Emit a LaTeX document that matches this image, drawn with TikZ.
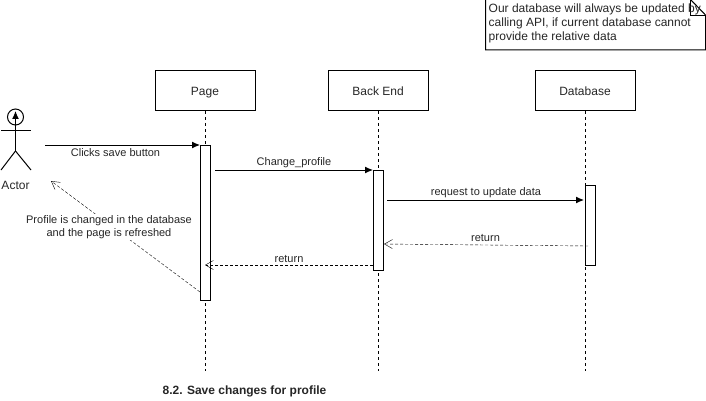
\documentclass[tikz,border=0pt]{standalone}
\usepackage{fontspec}
\setmainfont{Liberation Sans}
\usetikzlibrary{arrows.meta}

\begin{document}
\begin{tikzpicture}[x=1pt,y=-1pt,
    every node/.style={font=\fontsize{12}{14}\selectfont,text=black!85},
    lifebox/.style={rectangle, draw, line width=1pt, minimum width=100pt, minimum height=40pt, inner sep=0pt, text height=11pt, text depth=0pt},
    activation/.style={rectangle, draw, line width=1pt, fill=white, minimum width=10pt, inner sep=0pt},
    lifeline/.style={line width=1pt, dash pattern=on 3pt off 3pt},
    message/.style={line width=1pt, -{Latex[length=8pt,width=7pt]}},
    reply/.style={thin, dash pattern=on 3pt off 2pt, -{Straight Barb[length=8pt,width=9pt]}},
    msglabel/.style={font=\fontsize{11}{13}\selectfont, inner sep=1pt}]
   \useasboundingbox (0,0) rectangle (706,401);

   % lifelines
   \node[lifebox] (Page) at (205,90.5) {Page};
   \node[lifebox] (BackEnd) at (378,90.5) {Back End};
   \node[lifebox] (Database) at (585,90.5) {Database};
   \coordinate (PageEnd) at (205,371);
   \coordinate (BackEndEnd) at (378,371);
   \coordinate (DatabaseEnd) at (585,371);
   \draw[lifeline] (Page) to (PageEnd);
   \draw[lifeline] (BackEnd) to (BackEndEnd);
   \draw[lifeline] (Database) to (DatabaseEnd);

   % activations
   \node[activation, minimum height=155pt] (PageBar) at (205,222.5) {};
   \node[activation, minimum height=100pt] (BackEndBar) at (378,220) {};
   \node[activation, minimum height=80pt] (DatabaseBar) at (590,225) {};

   % actor
   \node[circle, draw, line width=1pt, minimum size=16pt, inner sep=0pt] (Head) at (15.5,117) {};
   \coordinate (Arm1) at (1,130);
   \coordinate (Arm2) at (31,130);
   \coordinate (Hip) at (15.5,151);
   \coordinate (Foot1) at (1,170);
   \coordinate (Foot2) at (31,170);
   \coordinate (HeadTop) at (15.5,111);
   \draw[line width=1pt] (Arm1) to (Arm2);
   \draw[line width=1pt] (Foot1) to (Hip);
   \draw[line width=1pt] (Hip) to (Foot2);
   \draw[message] (Hip) to (HeadTop);
   \node (Actor) at (15.5,185) {Actor};

   % messages
   \coordinate (ClickStart) at (45,145);
   \coordinate (ClickEnd) at (200,145);
   \coordinate (ChangeStart) at (215,170);
   \coordinate (ChangeEnd) at (373,170);
   \coordinate (RequestStart) at (387,200);
   \coordinate (RequestEnd) at (584,200);
   \coordinate (ReturnDbStart) at (588,246);
   \coordinate (ReturnDbEnd) at (384,244);
   \coordinate (ReturnPageStart) at (373,265);
   \coordinate (ReturnPageEnd) at (205,265);
   \coordinate (RefreshStart) at (200,292);
   \coordinate (RefreshEnd) at (51,181);
   \draw[message] (ClickStart) to (ClickEnd);
   \draw[message] (ChangeStart) to (ChangeEnd);
   \draw[message] (RequestStart) to (RequestEnd);
   \draw[reply] (ReturnDbStart) to (ReturnDbEnd);
   \draw[reply] (ReturnPageStart) to (ReturnPageEnd);
   \draw[reply] (RefreshStart) to (RefreshEnd);

   \node[msglabel] (ClickLabel) at (115.5,152.5) {Clicks save button};
   \node[msglabel] (ChangeLabel) at (294,163) {Change\_profile};
   \node[msglabel] (RequestLabel) at (486,193) {request to update data};
   \node[msglabel] (ReturnDbLabel) at (485.5,238) {return};
   \node[msglabel] (ReturnPageLabel) at (289,259) {return};
   \node[msglabel, fill=white, align=center] (RefreshLabel) at (109,227)
      {Profile is changed in the database\\and the page is refreshed};

   % note
   \draw[line width=1pt] (485.5,-1) -- (690,-1) -- (705.5,15) -- (705.5,50) -- (485.5,50) -- cycle;
   \draw[thin] (690,-1) -- (690,15) -- (705.5,15);
   \node[anchor=north west, inner sep=0pt, align=left] (NoteText) at (488.5,4)
      {Our database will always be updated by\\calling API, if current database cannot\\provide the relative data};

   % caption
   \node[font=\fontsize{12}{14}\selectfont\bfseries] (Caption) at (244.5,391) {8.2. Save changes for profile};
 \end{tikzpicture}
\end{document}
